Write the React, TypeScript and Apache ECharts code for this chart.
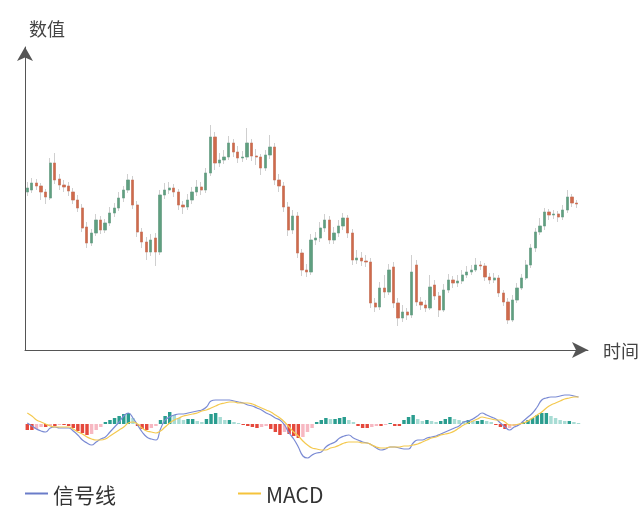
import React, { useEffect, useRef } from "react";
import * as echarts from "echarts";

const openPrices = [158,160,167,164,158,152,187,171,165,164,158,150,142,123,107,117,130,120,127,137,142,152,160,170,145,118,108,98,112,98,155,160,162,158,145,143,150,158,163,160,177,213,187,190,193,207,198,192,193,207,194,193,182,195,203,170,164,143,120,134,97,80,78,110,112,122,130,110,117,124,132,117,90,92,89,88,47,43,62,58,83,47,32,38,35,85,48,45,42,65,54,40,60,70,67,69,75,78,80,85,84,73,70,72,57,48,30,50,62,72,85,102,118,124,138,135,136,133,140,153,147];
const closePrices = [162,167,164,158,153,187,170,165,163,159,150,142,122,107,117,130,120,127,137,142,152,160,170,145,118,108,98,110,98,155,160,162,158,145,143,150,158,163,160,177,213,187,190,193,207,198,192,193,207,194,193,182,195,203,170,164,143,120,134,97,80,78,110,112,122,130,110,117,124,132,117,90,92,89,88,47,43,62,58,80,47,32,38,35,78,48,45,42,63,54,40,60,70,67,69,75,78,80,85,84,73,70,72,57,48,30,50,62,72,85,102,118,124,138,135,136,133,140,153,147,146];
const lowPrices = [154,157,160,150,146,150,166,160,158,154,146,138,118,102,104,114,116,117,124,133,139,148,157,141,113,102,90,94,84,95,151,156,153,140,136,140,146,154,155,157,174,180,183,186,190,193,187,188,190,189,185,175,179,191,165,158,138,114,116,92,74,73,75,105,108,118,106,106,113,120,112,85,86,84,83,42,38,40,52,55,42,24,28,30,32,44,40,38,40,50,33,38,57,62,63,66,72,75,78,80,69,66,67,53,44,26,28,47,60,70,82,98,115,120,130,131,128,130,137,143,142];
const highPrices = [168,172,171,167,161,192,197,176,170,168,162,155,146,128,121,136,134,131,143,147,158,164,176,174,149,122,113,116,117,160,167,168,166,161,149,156,163,170,168,182,225,218,197,200,214,211,204,199,222,211,201,196,200,215,207,176,168,148,140,138,101,86,116,118,128,136,134,123,130,137,135,121,100,98,95,92,52,68,75,86,88,52,45,42,95,90,53,50,75,70,58,66,76,74,75,80,84,85,92,89,87,77,77,75,60,52,55,67,76,90,106,122,132,142,141,140,139,145,160,156,150];

const signalLine = [1,-2,-5,-7,-8,-4,-3,-4,-4,-4,-7,-11,-16,-19,-21,-18,-15,-13,-8,-3,2,8,11,6,-1,-8,-13,-15,-16,-5,4,7,9,10,10,11,12,13,14,17,23,24,24,24,24,23,22,21,19,18,16,14,11,9,6,4,-1,-9,-15,-23,-32,-34,-31,-29,-28,-23,-20,-18,-14,-12,-11,-14,-16,-18,-19,-21,-24,-26,-25,-23,-23,-24,-25,-25,-19,-16,-16,-14,-13,-12,-10,-8,-6,-4,-2,2,3,5,8,11,9,7,5,1,-3,-6,-3,-1,3,7,11,17,24,26,27,27,28,29,29,28,27];
const macdLine = [11,8,4,2,0,-2,-3,-3,-3,-3,-5,-8,-10,-13,-15,-16,-16,-15,-12,-9,-6,-3,1,2,0,-4,-7,-8,-9,-7,-3,1,4,6,8,9,10,11,13,14,16,18,20,21,22,22,21,21,21,20,18,16,14,12,9,6,2,-3,-8,-12,-17,-21,-24,-25,-26,-26,-24,-23,-21,-19,-18,-18,-18,-19,-19,-21,-23,-24,-24,-23,-23,-23,-22,-22,-21,-20,-18,-16,-14,-13,-11,-10,-9,-7,-4,-1,1,3,5,7,6,5,4,4,2,-1,-1,0,1,3,6,9,12,16,19,21,23,25,26,27,27];
const histogram = [-6,-6,-5,-3,-3,-2,-2,-1,-1,-2,-4,-7,-9,-11,-10,-6,-3,2,4,6,8,10,11,6,-2,-5,-6,-4,-2,4,8,12,9,6,4,5,5,3,2,5,10,11,7,4,4,2,1,-1,-2,-3,-4,-3,-2,-5,-8,-11,-8,-10,-12,-14,-13,-8,-4,2,4,6,5,5,6,7,4,2,-2,-4,-4,-3,-2,-2,-1,1,-2,-2,4,7,9,5,3,4,3,2,3,5,7,5,4,3,4,3,3,4,3,2,-1,-3,-5,-4,-2,-1,2,4,6,9,11,11,8,6,4,3,3,2,1];

// two trailing empty periods keep the axis running past the last candle
const categories = [...openPrices.map((_, i) => String(i + 1)), "122", "123"];
const legendNames = ["信号线", "MACD"];

const UP = "#5f9f80";
const DOWN = "#cf6a4c";
const WICK = "#cfcfcf";

export default function App() {
  const ref = useRef<HTMLDivElement>(null);
  useEffect(() => {
    if (!ref.current) return;
    const chart = echarts.init(ref.current, null, { renderer: "svg" });
    const wickData = openPrices.map((o, i) => [o, closePrices[i], lowPrices[i], highPrices[i]]);
    const bodyData = openPrices.map((o, i) => {
      const c = closePrices[i];
      return [o, c, Math.min(o, c), Math.max(o, c)];
    });
    const histColor = (i: number) => {
      const v = histogram[i];
      const p = i > 0 ? histogram[i - 1] : 0;
      if (v >= 0) return v >= p ? "#2a9d8f" : "#a8dcd4";
      return v <= p ? "#e5483c" : "#f7b8c2";
    };
    chart.setOption({
      animation: false,
      textStyle: { fontFamily: "'Noto Sans CJK SC', 'Noto Sans', sans-serif" },
      legend: {
        data: legendNames,
        left: 25,
        top: 483,
        padding: 0,
        icon: "rect",
        itemWidth: 23,
        itemHeight: 2,
        itemGap: 122,
        textStyle: { fontSize: 21, color: "#333" },
      },
      grid: [
        { left: 25, right: 52, top: 47, bottom: 158 },
        { left: 25, right: 52, top: 384, height: 80 },
      ],
      xAxis: [
        {
          type: "category",
          data: categories,
          gridIndex: 0,
          boundaryGap: true,
          name: "时间",
          nameLocation: "end",
          nameGap: 15,
          nameTextStyle: { fontSize: 18, color: "#444" },
          axisLine: { lineStyle: { color: "#555", width: 1 }, symbol: ["none", "arrow"], symbolSize: [12, 16] },
          axisTick: { show: false },
          axisLabel: { show: false },
          splitLine: { show: false },
        },
        {
          type: "category",
          data: categories,
          gridIndex: 1,
          boundaryGap: true,
          axisLine: { show: false },
          axisTick: { show: false },
          axisLabel: { show: false },
          splitLine: { show: false },
        },
      ],
      yAxis: [
        {
          type: "value",
          gridIndex: 0,
          min: 0,
          max: 303,
          name: "数值",
          nameLocation: "end",
          nameGap: 10,
          nameTextStyle: { fontSize: 18, color: "#444", align: "left", padding: [0, 0, 0, 4] },
          axisLine: { show: true, lineStyle: { color: "#555", width: 1 }, symbol: ["none", "arrow"], symbolSize: [12, 14] },
          axisTick: { show: false },
          axisLabel: { show: false },
          splitLine: { show: false },
        },
        {
          type: "value",
          gridIndex: 1,
          min: -40,
          max: 40,
          axisLine: { show: false },
          axisTick: { show: false },
          axisLabel: { show: false },
          splitLine: { show: false },
        },
      ],
      series: [
        {
          type: "candlestick",
          xAxisIndex: 0,
          yAxisIndex: 0,
          data: wickData,
          barWidth: "60%",
          itemStyle: { color: WICK, color0: WICK, borderColor: WICK, borderColor0: WICK, borderWidth: 1 },
          silent: true,
        },
        {
          type: "candlestick",
          xAxisIndex: 0,
          yAxisIndex: 0,
          data: bodyData,
          barWidth: "60%",
          itemStyle: { color: UP, color0: DOWN, borderColor: UP, borderColor0: DOWN, borderWidth: 0.5 },
        },
        {
          type: "bar",
          xAxisIndex: 1,
          yAxisIndex: 1,
          data: histogram,
          barWidth: "75%",
          itemStyle: { color: (p: any) => histColor(p.dataIndex) },
        },
        {
          name: "信号线",
          type: "line",
          xAxisIndex: 1,
          yAxisIndex: 1,
          data: signalLine,
          smooth: true,
          symbol: "none",
          lineStyle: { color: "#7b8bd4", width: 1.2 },
          itemStyle: { color: "#6a7cc9" },
        },
        {
          name: "MACD",
          type: "line",
          xAxisIndex: 1,
          yAxisIndex: 1,
          data: macdLine,
          smooth: true,
          symbol: "none",
          lineStyle: { color: "#f4c94f", width: 1.2 },
          itemStyle: { color: "#f5c33b" },
        },
      ],
    });
    return () => chart.dispose();
  }, []);
  return <div ref={ref} style={{ position: "fixed", left: 0, top: 0, width: 642, height: 508 }} />;
}
